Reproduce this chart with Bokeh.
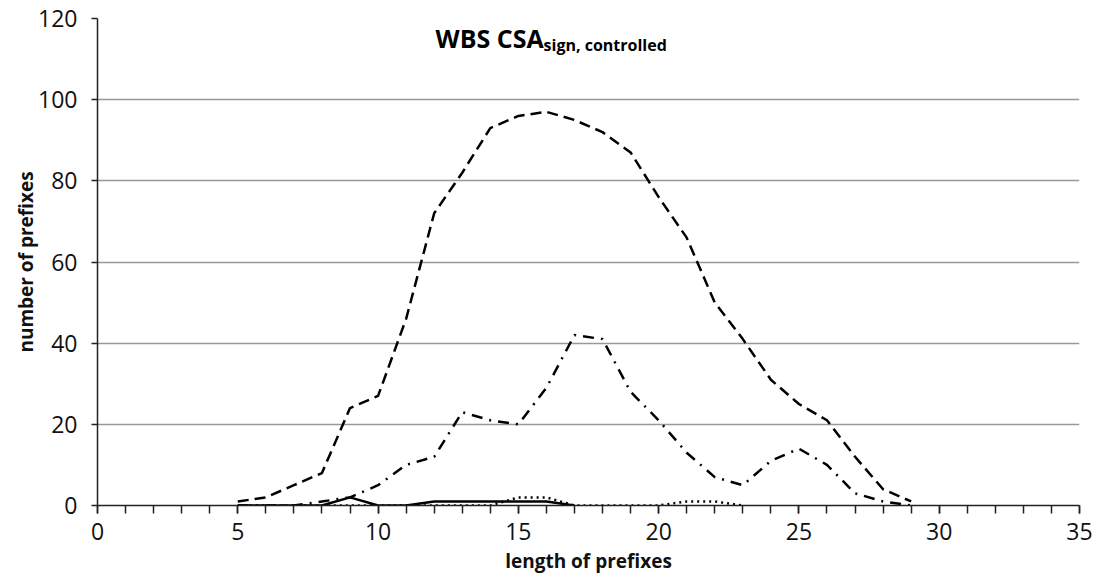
from bokeh.plotting import figure
from bokeh.models import Range1d, FixedTicker, Label
from bokeh.embed import file_html
from bokeh.resources import INLINE

x_dashed = list(range(5, 30))
y_dashed = [1, 2, 5, 8, 24, 27, 46, 72, 82, 93, 96, 97, 95, 92, 87, 76, 66, 50, 41, 31, 25, 21, 12, 4, 1]

x_dashdot = list(range(5, 30))
y_dashdot = [0, 0, 0, 1, 2, 5, 10, 12, 23, 21, 20, 29, 42, 41, 28, 21, 13, 7, 5, 11, 14, 10, 3, 1, 0]

x_solid = list(range(5, 18))
y_solid = [0, 0, 0, 0, 2, 0, 0, 1, 1, 1, 1, 1, 0]

x_dotted = list(range(5, 24))
y_dotted = [0, 0, 0, 0, 0, 0, 0, 0, 0, 0, 2, 2, 0, 0, 0, 0, 1, 1, 0]

x_ticks = [0, 5, 10, 15, 20, 25, 30, 35]
y_ticks = [0, 20, 40, 60, 80, 100, 120]

FONT = "Open Sans"

p = figure(width=1101, height=584, output_backend="svg", toolbar_location=None,
           x_range=Range1d(0, 35), y_range=Range1d(0, 120),
           min_border_left=97, min_border_right=22, min_border_top=18, min_border_bottom=79)
p.outline_line_color = None
p.background_fill_color = "white"

p.line(x_dashed, y_dashed, line_color="black", line_width=2.5, line_dash="11 6")
p.line(x_dashdot, y_dashdot, line_color="black", line_width=2.5, line_dash="11 7 2 7")
p.line(x_dotted, y_dotted, line_color="black", line_width=2.5, line_dash="2 4")
p.line(x_solid, y_solid, line_color="black", line_width=2.5)

p.xgrid.visible = False
p.ygrid.ticker = FixedTicker(ticks=y_ticks)
p.ygrid.grid_line_color = "#999999"
p.ygrid.grid_line_width = 1.5

xa = p.xaxis[0]
xa.ticker = FixedTicker(ticks=x_ticks, minor_ticks=list(range(0, 36)))
xa.axis_line_color = "#222222"
xa.axis_line_width = 1.5
xa.major_tick_out = 8
xa.major_tick_in = 0
xa.minor_tick_out = 8
xa.minor_tick_in = 0
xa.major_tick_line_color = "#222222"
xa.minor_tick_line_color = "#222222"
xa.major_tick_line_width = 1.5
xa.minor_tick_line_width = 1.5
xa.major_label_text_font = FONT
xa.major_label_text_font_size = "23px"
xa.major_label_text_color = "#111111"
xa.major_label_standoff = 9
xa.axis_label = "length of prefixes"
xa.axis_label_text_font = FONT
xa.axis_label_text_font_style = "bold"
xa.axis_label_text_font_size = "19px"
xa.axis_label_text_color = "#111111"
xa.axis_label_standoff = 5

ya = p.yaxis[0]
ya.ticker = FixedTicker(ticks=y_ticks)
ya.axis_line_color = "#222222"
ya.axis_line_width = 1.5
ya.major_tick_out = 6
ya.major_tick_in = 0
ya.minor_tick_out = 0
ya.minor_tick_in = 0
ya.major_tick_line_color = "#222222"
ya.major_tick_line_width = 1.5
ya.major_label_text_font = FONT
ya.major_label_text_font_size = "23px"
ya.major_label_text_color = "#111111"
ya.major_label_standoff = 14
ya.axis_label = "number of prefixes"
ya.axis_label_text_font = FONT
ya.axis_label_text_font_style = "bold"
ya.axis_label_text_font_size = "19px"
ya.axis_label_text_color = "#111111"
ya.axis_label_standoff = -4

p.add_layout(Label(x=12.05, y=115.1, text="WBS CSA", text_font=FONT, text_font_style="bold",
                   text_font_size="25px", text_baseline="alphabetic", text_color="black"))
p.add_layout(Label(x=15.9, y=113.4, text="sign, controlled", text_font=FONT, text_font_style="bold",
                   text_font_size="16px", text_baseline="alphabetic", text_color="black"))

open("out.html", "w").write(file_html(p, INLINE))
